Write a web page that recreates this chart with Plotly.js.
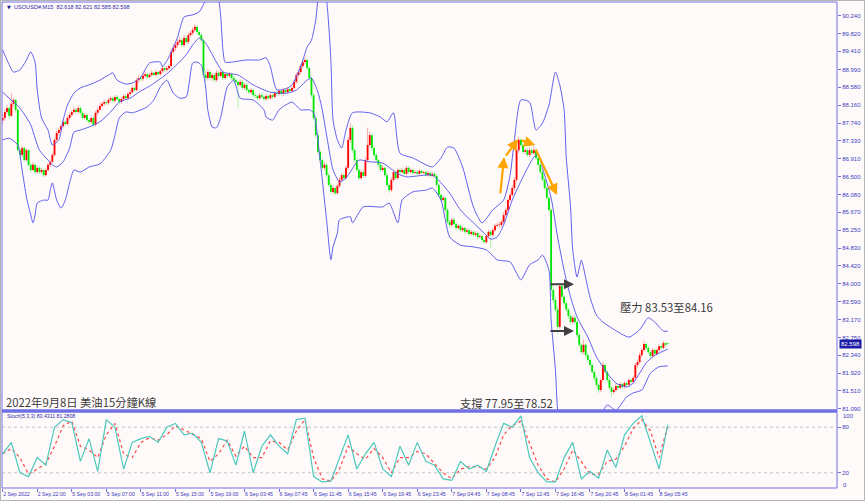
<!DOCTYPE html>
<html><head><meta charset="utf-8">
<script src="https://cdn.plot.ly/plotly-3.0.1.min.js"></script>
<style>html,body{margin:0;padding:0;background:#fffafa;}#chart{width:865px;height:501px;}</style>
</head><body><div id="chart"></div>
<script>
// ---- candle data (USOUSD#, M15) ----
const openP = [
87.80,87.86,88.00,88.09,87.91,88.19,88.28,88.05,87.11,87.00,
87.16,86.88,87.11,86.77,86.65,86.77,86.60,86.70,86.60,86.65,
86.53,86.65,86.77,86.84,87.00,87.35,87.51,87.58,87.67,87.77,
87.72,87.86,87.93,88.00,88.05,88.00,88.09,87.98,87.86,87.93,
87.81,87.77,87.86,87.70,87.98,88.05,88.14,88.19,88.23,88.21,
88.28,88.32,88.26,88.35,88.30,88.23,88.30,88.37,88.32,88.42,
88.46,88.56,88.51,88.74,88.79,88.77,88.84,88.88,88.81,88.86,
88.91,88.86,88.93,88.88,88.95,89.02,88.98,89.02,89.07,89.40,
89.49,89.56,89.63,89.67,89.56,89.72,89.63,89.79,89.84,89.91,
89.98,89.86,89.79,89.67,88.86,88.79,88.93,88.79,88.86,88.74,
88.91,88.84,88.93,88.79,88.88,88.84,88.88,88.79,88.74,88.70,
88.63,88.70,88.56,88.63,88.51,88.46,88.51,88.39,88.37,88.32,
88.39,88.35,88.30,88.37,88.32,88.39,88.35,88.44,88.42,88.49,
88.42,88.51,88.46,88.53,88.49,88.56,88.70,88.86,88.93,89.07,
89.16,89.21,89.02,88.79,88.39,87.86,87.46,87.07,86.88,86.70,
86.77,86.53,86.30,86.14,86.23,86.11,86.28,86.42,86.53,86.46,
86.70,87.35,87.63,87.11,86.88,86.65,86.46,86.60,86.51,86.88,
87.23,87.46,87.16,87.00,86.88,86.77,86.65,86.70,86.53,86.30,
86.18,86.42,86.60,86.46,86.65,86.60,86.65,86.56,86.70,86.60,
86.65,86.58,86.60,86.56,86.63,86.58,86.60,86.53,86.58,86.51,
86.56,86.51,86.30,86.07,85.95,86.00,85.72,85.44,85.37,85.49,
85.39,85.30,85.35,85.25,85.30,85.21,85.25,85.16,85.21,85.14,
85.18,85.09,85.11,85.02,84.97,85.11,85.21,85.14,85.25,85.35,
85.37,85.37,85.44,85.60,85.72,85.95,86.07,86.23,86.42,87.11,
87.35,87.23,87.07,87.11,87.00,87.11,87.04,87.11,86.93,86.77,
86.60,86.42,86.23,86.00,85.72,83.86,83.62,83.40,83.00,83.95,
83.70,83.55,83.40,83.25,83.11,83.21,83.11,82.81,82.58,82.41,
82.58,82.34,82.23,82.11,81.95,81.81,81.65,81.53,81.76,82.11,
81.95,81.76,81.58,81.48,81.53,81.62,81.58,81.67,81.60,81.69,
81.65,81.76,81.72,81.81,82.11,82.18,82.34,82.46,82.60,82.51,
82.41,82.32,82.46,82.37,82.46,82.55,82.51,82.62,82.618
];
const highP = [
87.95,88.06,88.16,88.12,88.44,88.33,88.30,88.08,87.20,87.22,
87.20,87.15,87.14,86.82,86.84,86.80,86.76,86.74,86.70,86.69,
86.70,86.82,86.90,87.05,87.40,87.56,87.64,87.73,87.83,87.80,
87.92,87.98,88.05,88.12,88.10,88.15,88.13,88.02,87.98,87.97,
87.86,87.90,87.91,88.03,88.10,88.20,88.24,88.29,88.28,88.33,
88.38,88.37,88.40,88.40,88.34,88.35,88.42,88.41,88.47,88.52,
88.61,88.60,88.79,88.86,88.83,88.90,88.94,88.92,88.91,88.97,
88.95,88.98,88.96,89.00,89.08,89.06,89.07,89.12,89.46,89.58,
89.64,89.70,89.75,89.72,89.80,89.77,89.85,89.90,89.98,90.04,
90.02,89.92,89.84,89.72,88.95,88.99,88.98,88.92,88.90,88.97,
88.96,88.98,88.97,88.93,88.92,88.93,88.92,88.84,88.79,88.75,
88.76,88.74,88.68,88.67,88.56,88.56,88.55,88.44,88.41,88.44,
88.43,88.39,88.42,88.41,88.44,88.43,88.49,88.48,88.54,88.52,
88.56,88.55,88.58,88.57,88.61,88.75,88.91,88.99,89.12,89.22,
89.28,89.25,89.06,88.84,88.44,87.92,87.52,87.12,86.93,86.84,
86.81,86.58,86.36,86.30,86.27,86.33,86.48,86.58,86.57,86.76,
87.42,87.74,87.68,87.16,86.94,86.70,86.66,86.66,86.94,87.63,
87.55,87.50,87.21,87.05,86.93,86.82,86.76,86.74,86.58,86.35,
86.48,86.66,86.64,86.70,86.69,86.70,86.69,86.75,86.74,86.70,
86.68,86.64,86.64,86.67,86.66,86.64,86.63,86.62,86.61,86.60,
86.60,86.55,86.34,86.12,86.05,86.04,85.77,85.50,85.54,85.53,
85.44,85.39,85.40,85.34,85.34,85.30,85.29,85.26,85.25,85.23,
85.22,85.16,85.15,85.06,85.15,85.26,85.25,85.30,85.40,85.43,
85.45,85.49,85.66,85.78,86.00,86.13,86.30,86.48,87.18,87.42,
87.40,87.28,87.16,87.17,87.18,87.16,87.22,87.15,86.98,86.82,
86.65,86.47,86.28,86.05,85.76,83.98,83.70,83.48,84.02,84.00,
83.76,83.62,83.45,83.30,83.27,83.26,83.15,82.86,82.63,82.70,
82.62,82.40,82.28,82.17,82.01,81.87,81.70,81.82,82.18,82.15,
82.00,81.81,81.63,81.58,81.67,81.66,81.71,81.71,81.74,81.72,
81.80,81.80,81.86,82.16,82.24,82.40,82.52,82.68,82.66,82.56,
82.45,82.51,82.50,82.51,82.60,82.59,82.67,82.65,82.621
];
const lowP = [
87.72,87.80,87.95,87.85,87.88,88.12,87.98,87.05,86.92,86.95,
86.84,86.85,86.72,86.58,86.62,86.55,86.56,86.55,86.56,86.48,
86.49,86.60,86.72,86.80,86.96,87.30,87.46,87.54,87.62,87.67,
87.68,87.81,87.88,87.95,87.95,87.96,87.93,87.81,87.82,87.76,
87.72,87.72,87.65,87.66,87.93,88.01,88.10,88.14,88.16,88.17,
88.24,88.21,88.22,88.26,88.18,88.19,88.26,88.28,88.29,88.38,
88.42,88.46,88.47,88.68,88.71,88.72,88.79,88.76,88.77,88.82,
88.80,88.82,88.84,88.84,88.90,88.93,88.94,88.97,89.02,89.35,
89.42,89.50,89.57,89.50,89.50,89.58,89.58,89.74,89.79,89.86,
89.80,89.72,89.60,88.80,88.70,88.73,88.73,88.72,88.68,88.70,
88.78,88.80,88.74,88.75,88.79,88.80,88.74,88.69,88.65,88.09,
88.58,88.51,88.52,88.46,88.41,88.42,88.35,88.32,88.27,88.29,
88.30,88.25,88.26,88.28,88.28,88.30,88.31,88.37,88.38,88.37,
88.38,88.41,88.42,88.44,88.45,88.51,88.65,88.80,88.88,89.02,
89.10,88.97,88.74,88.33,87.80,87.40,87.00,86.82,86.64,86.65,
86.48,86.25,86.08,86.09,86.06,86.07,86.23,86.37,86.41,86.42,
86.65,87.28,87.05,86.83,86.60,86.40,86.42,86.46,86.47,86.83,
87.18,87.10,86.95,86.82,86.72,86.60,86.60,86.48,86.25,86.11,
86.14,86.37,86.41,86.42,86.55,86.56,86.52,86.52,86.56,86.56,
86.54,86.55,86.52,86.53,86.55,86.55,86.50,86.50,86.47,86.48,
86.46,86.25,86.02,85.90,85.91,85.66,85.38,85.31,85.33,85.34,
85.25,85.26,85.21,85.20,85.16,85.17,85.11,85.12,85.09,85.10,
85.04,85.05,84.97,84.92,84.93,85.06,84.83,85.10,85.21,85.31,
85.30,85.32,85.40,85.55,85.67,85.90,86.02,86.18,86.38,87.05,
87.18,87.02,87.02,86.95,86.96,86.99,87.00,86.88,86.72,86.55,
86.37,86.18,85.94,85.66,83.70,83.55,83.33,82.82,82.95,83.60,
83.48,83.34,83.19,83.05,83.06,83.05,82.75,82.52,82.35,82.36,
82.28,82.17,82.05,81.89,81.75,81.58,81.46,81.48,81.72,81.90,
81.70,81.52,81.37,81.43,81.49,81.53,81.54,81.56,81.56,81.60,
81.60,81.67,81.68,81.77,82.05,82.12,82.29,82.41,82.46,82.36,
82.27,82.28,82.33,82.33,82.41,82.47,82.47,82.53,82.585
];
const closeP = [
87.86,88.00,88.09,87.91,88.19,88.28,88.05,87.11,87.00,87.16,
86.88,87.11,86.77,86.65,86.77,86.60,86.70,86.60,86.65,86.53,
86.65,86.77,86.84,87.00,87.35,87.51,87.58,87.67,87.77,87.72,
87.86,87.93,88.00,88.05,88.00,88.09,87.98,87.86,87.93,87.81,
87.77,87.86,87.70,87.98,88.05,88.14,88.19,88.23,88.21,88.28,
88.32,88.26,88.35,88.30,88.23,88.30,88.37,88.32,88.42,88.46,
88.56,88.51,88.74,88.79,88.77,88.84,88.88,88.81,88.86,88.91,
88.86,88.93,88.88,88.95,89.02,88.98,89.02,89.07,89.40,89.49,
89.56,89.63,89.67,89.56,89.72,89.63,89.79,89.84,89.91,89.98,
89.86,89.79,89.67,88.86,88.79,88.93,88.79,88.86,88.74,88.91,
88.84,88.93,88.79,88.88,88.84,88.88,88.79,88.74,88.70,88.63,
88.70,88.56,88.63,88.51,88.46,88.51,88.39,88.37,88.32,88.39,
88.35,88.30,88.37,88.32,88.39,88.35,88.44,88.42,88.49,88.42,
88.51,88.46,88.53,88.49,88.56,88.70,88.86,88.93,89.07,89.16,
89.21,89.02,88.79,88.39,87.86,87.46,87.07,86.88,86.70,86.77,
86.53,86.30,86.14,86.23,86.11,86.28,86.42,86.53,86.46,86.70,
87.35,87.63,87.11,86.88,86.65,86.46,86.60,86.51,86.88,87.23,
87.46,87.16,87.00,86.88,86.77,86.65,86.70,86.53,86.30,86.18,
86.42,86.60,86.46,86.65,86.60,86.65,86.56,86.70,86.60,86.65,
86.58,86.60,86.56,86.63,86.58,86.60,86.53,86.58,86.51,86.56,
86.51,86.30,86.07,85.95,86.00,85.72,85.44,85.37,85.49,85.39,
85.30,85.35,85.25,85.30,85.21,85.25,85.16,85.21,85.14,85.18,
85.09,85.11,85.02,84.97,85.11,85.21,85.14,85.25,85.35,85.37,
85.37,85.44,85.60,85.72,85.95,86.07,86.23,86.42,87.11,87.35,
87.23,87.07,87.11,87.00,87.11,87.04,87.11,86.93,86.77,86.60,
86.42,86.23,86.00,85.72,83.86,83.62,83.40,83.00,83.95,83.70,
83.55,83.40,83.25,83.11,83.21,83.11,82.81,82.58,82.41,82.58,
82.34,82.23,82.11,81.95,81.81,81.65,81.53,81.76,82.11,81.95,
81.76,81.58,81.48,81.53,81.62,81.58,81.67,81.60,81.69,81.65,
81.76,81.72,81.81,82.11,82.18,82.34,82.46,82.60,82.51,82.41,
82.32,82.46,82.37,82.46,82.55,82.51,82.62,82.58,82.598
];

// ---- Bollinger bands (bar index, price) ----
const bbUpperIdx = [0,2,5,8,11,13,15,16,18,21,23,26,28,30,33,36,40,45,49,51,53,57,60,64,68,73,74,77,81,84,88,91,94,96,98,100,101,102,103,106,113,119,122,124,127,132,134,138,141,143,145,146,148,150,152,153,155,157,159,162,170,175,178,181,184,190,199,203,206,209,213,218,222,227,232,235,237,240,244,247,250,253,256,258,260,261,263,264,266,268,270,272,275,278,285,290,295,299,302,306,308];
const bbUpper = [89.44,89.21,88.93,88.98,89.21,89.40,89.16,88.51,87.86,87.58,87.23,87.35,87.81,88.16,88.44,88.56,88.63,88.74,88.86,88.91,88.74,88.65,88.67,88.81,89.14,89.16,89.05,89.28,89.74,90.21,90.26,90.33,90.61,90.88,90.79,90.61,90.21,89.44,89.16,89.16,89.21,89.21,89.26,89.05,88.51,88.56,88.63,89.05,89.51,89.67,90.14,90.61,91.07,90.61,89.21,87.81,87.35,87.16,87.58,87.98,87.98,87.88,87.77,87.98,87.04,86.93,86.72,86.93,87.18,87.16,86.72,85.79,85.42,85.72,85.95,86.53,87.35,88.28,88.23,87.58,87.74,88.16,88.93,88.63,88.05,86.95,85.79,84.79,84.16,84.55,84.14,83.69,83.27,83.11,82.88,82.76,82.93,83.21,83.11,82.90,82.90];
const bbMidIdx = [0,3,8,13,15,17,21,23,25,28,31,33,36,40,45,50,54,59,64,68,74,77,81,85,88,91,94,99,102,109,116,124,132,136,141,143,146,148,150,152,153,156,159,165,170,176,183,187,199,203,207,212,218,223,226,229,232,236,241,246,248,250,254,257,260,263,266,271,275,280,284,289,292,295,298,301,304,308];
const bbMid = [88.46,88.32,88.09,87.70,87.39,87.11,86.88,86.77,86.72,86.84,87.16,87.53,87.58,87.65,87.77,88.00,88.23,88.32,88.49,88.60,88.81,88.93,89.12,89.33,89.56,89.72,89.60,89.16,88.93,88.86,88.63,88.46,88.44,88.51,88.74,88.79,88.46,88.05,87.46,86.88,86.65,86.37,86.46,86.88,86.84,86.81,86.56,86.49,86.53,86.35,86.11,85.72,85.42,85.18,85.04,85.09,85.37,85.95,86.49,86.95,87.02,86.70,86.00,85.09,84.32,83.69,83.23,82.76,82.30,81.92,81.69,81.60,81.69,81.92,82.16,82.30,82.39,82.48];
const bbLowerIdx = [0,3,7,9,11,13,14,15,16,19,21,22,23,25,27,29,31,33,36,40,45,50,52,54,57,60,67,70,73,76,79,82,85,88,90,92,94,95,97,99,101,104,107,110,116,121,122,125,128,134,138,142,144,147,150,152,153,155,156,161,162,167,176,179,183,185,190,196,199,203,207,212,218,224,229,235,238,240,244,248,250,253,254,256,257,259,263,268,272,276,280,284,289,292,296,300,304,308];
const bbLower = [87.35,87.39,87.23,86.65,86.02,85.60,85.42,85.60,85.88,85.95,85.95,86.18,86.35,85.95,85.76,85.95,86.35,86.65,86.60,86.72,86.79,87.11,87.46,87.86,88.00,87.98,88.12,88.28,88.58,88.74,88.44,88.32,88.35,89.14,89.16,89.09,88.58,88.05,87.65,87.63,87.88,88.58,88.74,88.32,88.28,88.05,87.88,87.81,88.05,88.23,88.05,88.05,87.98,86.88,85.49,84.56,84.86,85.18,85.49,85.56,85.42,85.79,85.79,85.88,85.42,85.95,86.14,86.18,86.23,85.95,85.09,84.90,84.86,84.79,84.56,84.51,84.25,84.09,84.44,84.56,84.67,84.32,83.16,81.99,81.06,80.37,79.67,79.44,80.13,80.83,81.18,81.06,81.37,81.46,81.53,81.92,82.07,82.09];

// ---- Stochastic (5,3,3) ----
const stochIdx = [0,4,8,12,16,20,24,28,32,36,40,44,48,52,56,60,64,68,72,76,80,84,88,92,96,100,104,108,112,116,120,124,128,132,136,140,144,148,152,156,160,164,168,172,176,180,184,188,192,196,200,204,208,212,216,220,224,228,232,236,240,244,248,252,256,260,264,268,272,276,280,284,288,292,296,300,304,308];
const stochMain = [45,60,20,15,40,30,80,90,86,35,65,22,90,80,25,60,65,68,60,80,85,70,72,60,20,65,62,30,75,20,55,70,55,45,90,92,15,8,9,40,70,25,45,60,25,15,55,30,60,35,30,12,10,35,25,30,22,55,85,80,95,40,20,8,8,40,60,12,22,13,50,27,70,85,95,60,25,83.43];
const stochSignal = [45,52,40,18,25,32,55,82,88,55,50,40,70,85,45,40,60,66,63,70,82,76,70,65,35,45,63,42,55,40,40,62,60,50,75,90,40,12,9,25,55,45,38,52,40,20,40,40,48,45,32,20,12,25,28,28,25,40,70,82,88,60,30,12,8,25,50,35,18,18,35,38,55,78,90,75,40,81.28];

// ---- axis labels ----
const priceTicks = [90.24,89.82,89.41,88.99,88.58,88.16,87.74,87.33,86.91,86.50,86.08,85.67,85.25,84.83,84.42,84.00,83.59,83.17,82.75,82.34,81.92,81.51,81.09];
const stochTicks = [20, 80];
const stochEnds = [100, 0];
const timeTickIdx = [0,16,32,48,64,80,96,112,128,144,160,176,192,208,224,240,256,272,288,304];
const timeTickText = ['2 Sep 2022','2 Sep 22:00','5 Sep 03:00','5 Sep 07:00','5 Sep 11:00','5 Sep 15:00','5 Sep 19:00','6 Sep 03:45','6 Sep 07:45','6 Sep 11:45','6 Sep 15:45','6 Sep 19:45','6 Sep 23:45','7 Sep 04:45','7 Sep 08:45','7 Sep 12:45','7 Sep 16:45','7 Sep 20:45','8 Sep 01:45','8 Sep 05:45'];

// ---- styling ----
const axisColor = 'rgb(112,112,228)';
const labelColor = 'rgb(58,58,190)';
const bandColor = 'rgb(96,96,236)';
const upBody = '#ff0000', upWick = '#ffa3a3';
const dnBody = '#00e600', dnWick = '#a6f2a6';

const idx = closeP.map((_, i) => i);
const up = closeP.map((c, i) => c >= openP[i]);
const wickLen = highP.map((h, i) => h - lowP[i]);
const bodyBase = openP.map((o, i) => Math.min(o, closeP[i]));
const bodyLen = openP.map((o, i) => Math.max(Math.abs(closeP[i] - o), 0.012));

const traces = [
  {type:'bar', x:idx, y:wickLen, base:lowP, width:0.42, xaxis:'x', yaxis:'y',
   marker:{color:up.map(u => u ? upWick : dnWick), line:{width:0}}, hoverinfo:'skip'},
  {type:'bar', x:idx, y:bodyLen, base:bodyBase, width:0.85, xaxis:'x', yaxis:'y',
   marker:{color:up.map(u => u ? upBody : dnBody), line:{width:0}}, hoverinfo:'skip'},
  {type:'scatter', mode:'lines', x:bbUpperIdx, y:bbUpper, xaxis:'x', yaxis:'y',
   line:{color:bandColor, width:1, shape:'spline', smoothing:0.6}, hoverinfo:'skip'},
  {type:'scatter', mode:'lines', x:bbMidIdx, y:bbMid, xaxis:'x', yaxis:'y',
   line:{color:bandColor, width:1, shape:'spline', smoothing:0.6}, hoverinfo:'skip'},
  {type:'scatter', mode:'lines', x:bbLowerIdx, y:bbLower, xaxis:'x', yaxis:'y',
   line:{color:bandColor, width:1, shape:'spline', smoothing:0.6}, hoverinfo:'skip'},
  {type:'scatter', mode:'lines', x:stochIdx, y:stochSignal, xaxis:'x', yaxis:'y2',
   line:{color:'rgb(255,70,70)', width:1.2, dash:'dot'}, hoverinfo:'skip'},
  {type:'scatter', mode:'lines', x:stochIdx, y:stochMain, xaxis:'x', yaxis:'y2',
   line:{color:'rgb(78,200,188)', width:1.2}, hoverinfo:'skip'}
];

const pw = 835, ph = 486;
const mainBottom = (488 - 410) / ph;   // paper y of main-panel bottom
const stochTop = (488 - 412) / ph;

const tickFont = {family:'Liberation Sans, Arial, sans-serif', size:6, color:labelColor};
const noteFont = {family:'Noto Sans CJK TC, Noto Sans CJK SC, sans-serif', size:11.3, color:'#3a3a3a'};

function arrow(x0, y0, x1, y1, color, w) {
  return {xref:'x', yref:'y', axref:'x', ayref:'y', x:x1, y:y1, ax:x0, ay:y0,
          text:'', showarrow:true, arrowhead:2, arrowsize:1, arrowwidth:w, arrowcolor:color};
}

const annotations = [
  {xref:'paper', yref:'paper', x:3/pw, y:(488-6.5)/ph, xanchor:'left', yanchor:'middle', showarrow:false,
   text:'▼', font:{family:'DejaVu Sans', size:5, color:'#20208c'}},
  {xref:'paper', yref:'paper', x:9.5/pw, y:(488-6.5)/ph, xanchor:'left', yanchor:'middle', showarrow:false,
   text:'USOUSD#,M15  82.618 82.621 82.585 82.598', font:{family:'Liberation Sans, Arial, sans-serif', size:5.6, color:'#2c2ca8'}},
  {xref:'paper', yref:'paper', x:3/pw, y:(488-416)/ph, xanchor:'left', yanchor:'middle', showarrow:false,
   text:'Stoch(5,3,3) 83.4311 81.2808', font:{family:'Liberation Sans, Arial, sans-serif', size:5.2, color:'#2c2ca8'}},
  {xref:'paper', yref:'paper', x:1.5/pw, y:(488-402)/ph, xanchor:'left', yanchor:'middle', showarrow:false,
   text:'2022年9月8日 美油15分鐘K線', font:noteFont},
  {xref:'paper', yref:'paper', x:(458-2)/pw, y:(488-403)/ph, xanchor:'left', yanchor:'middle', showarrow:false,
   text:'支撐 77.95至78.52', font:noteFont},
  {xref:'paper', yref:'paper', x:(618-2)/pw, y:(488-307)/ph, xanchor:'left', yanchor:'middle', showarrow:false,
   text:'壓力 83.53至84.16', font:noteFont},
  {xref:'paper', yref:'y', x:1+2/pw, y:82.598, xanchor:'left', yanchor:'middle', showarrow:false,
   text:'82.598', bgcolor:'#1c1ca6', borderpad:1, font:{family:'Liberation Sans, Arial, sans-serif', size:6, color:'#ffffff'}},
  arrow(230.4, 86.07, 232.2, 86.95, '#ffa500', 2.2),
  arrow(232.6, 86.95, 238.7, 87.37, '#ffa500', 2.2),
  arrow(239.6, 87.35, 246.6, 87.23, '#ffa500', 2.2),
  arrow(246.6, 87.16, 256.7, 86.07, '#ffa500', 2.2),
  arrow(253.0, 83.99, 264.6, 83.99, '#404040', 2),
  arrow(253.0, 82.90, 264.6, 82.90, '#404040', 2)
];
// stochastic scale end labels (100 at top, 0 at bottom, drawn inside the panel like the terminal)
stochEnds.forEach(v => annotations.push({xref:'paper', yref:'paper', x:1+4/pw, xanchor:'left',
  y: v === 100 ? (488-415.5)/ph : (488-485)/ph, yanchor:'middle', showarrow:false,
  text:String(v), font:tickFont}));

const layout = {
  width:865, height:501,
  margin:{l:2, r:28, t:2, b:13},
  paper_bgcolor:'#fffafa', plot_bgcolor:'#fffafa',
  showlegend:false, barmode:'overlay', dragmode:false,
  xaxis:{range:[-0.32, 386.4], anchor:'y2', tickmode:'array', tickvals:timeTickIdx, ticktext:timeTickText,
         ticks:'outside', ticklen:3, tickcolor:axisColor, ticklabelposition:'outside right', tickangle:0,
         ticklabelstandoff:1,
         tickfont:{family:'Liberation Sans, Arial, sans-serif', size:5.2, color:labelColor},
         showgrid:false, zeroline:false, showline:false, fixedrange:true},
  yaxis:{domain:[mainBottom, 1], range:[81.064, 90.559], side:'right', tickmode:'array',
         tickvals:priceTicks, ticktext:priceTicks.map(v => v.toFixed(3)),
         ticks:'outside', ticklen:3, tickcolor:axisColor, tickfont:tickFont,
         showgrid:false, zeroline:false, showline:false, fixedrange:true},
  yaxis2:{domain:[0, stochTop], range:[0, 100], side:'right', tickmode:'array',
          tickvals:stochTicks, ticktext:stochTicks.map(String),
          ticks:'outside', ticklen:3, tickcolor:axisColor, tickfont:tickFont,
          showgrid:false, zeroline:false, showline:false, fixedrange:true},
  shapes:[
    {type:'rect', xref:'paper', yref:'paper', x0:-1.5/pw, x1:1+27.5/pw, y0:-12.5/ph, y1:1+1.5/ph,
     line:{color:'#b4b4b4', width:1}, fillcolor:'rgba(0,0,0,0)', layer:'above'},
    {type:'rect', xref:'paper', yref:'paper', x0:0, x1:1, y0:mainBottom, y1:1,
     line:{color:axisColor, width:1}, fillcolor:'rgba(0,0,0,0)', layer:'above'},
    {type:'rect', xref:'paper', yref:'paper', x0:0, x1:1, y0:stochTop, y1:mainBottom,
     line:{color:axisColor, width:1}, fillcolor:axisColor, layer:'above'},
    {type:'rect', xref:'paper', yref:'paper', x0:0, x1:1, y0:0, y1:stochTop,
     line:{color:axisColor, width:1}, fillcolor:'rgba(0,0,0,0)', layer:'above'},
    {type:'line', xref:'paper', yref:'y2', x0:0, x1:1, y0:80, y1:80, line:{color:'#c4c4c4', width:1, dash:'dot'}, layer:'below'},
    {type:'line', xref:'paper', yref:'y2', x0:0, x1:1, y0:20, y1:20, line:{color:'#c4c4c4', width:1, dash:'dot'}, layer:'below'}
  ],
  annotations: annotations
};

Plotly.newPlot('chart', traces, layout, {staticPlot:true, displayModeBar:false});
</script>
</body></html>
